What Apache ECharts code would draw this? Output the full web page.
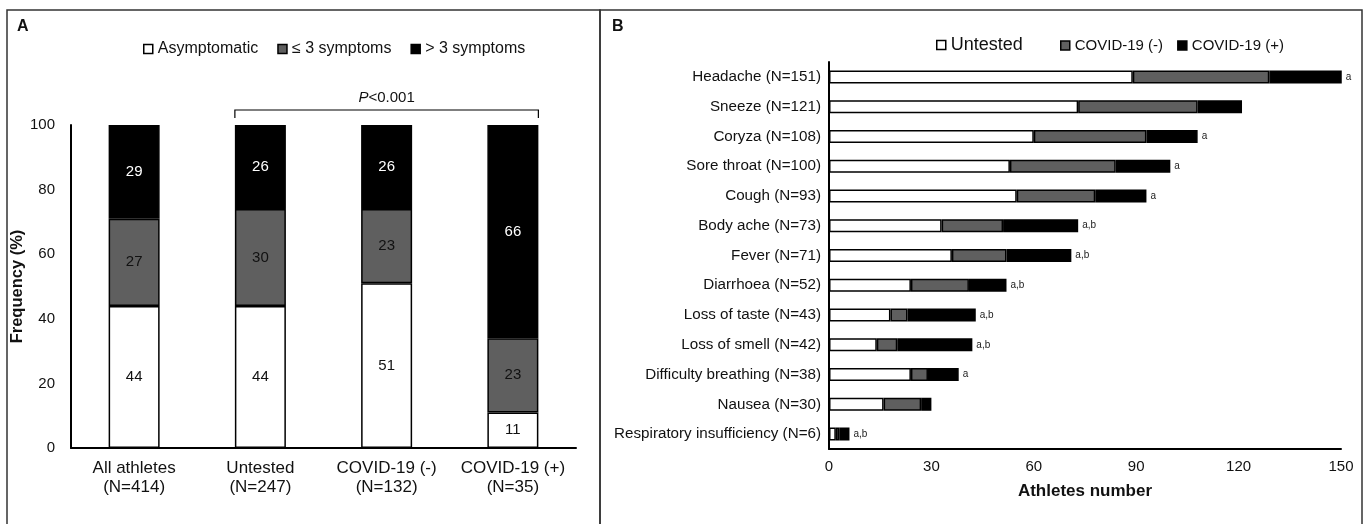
<!DOCTYPE html>
<html>
<head>
<meta charset="utf-8">
<script src="https://cdn.jsdelivr.net/npm/echarts@6/dist/echarts.min.js"></script>
<style>
  html, body { margin: 0; padding: 0; background: #fff; }
  #chart { width: 1367px; height: 524px; }
</style>
</head>
<body>
<div id="chart"></div>
<script>
// Panel A: symptom frequency (%) by group
const groupsA = ["All athletes\n(N=414)", "Untested\n(N=247)", "COVID-19 (-)\n(N=132)", "COVID-19 (+)\n(N=35)"];
const asymptomatic = [44, 44, 51, 11];
const upTo3 = [27, 30, 23, 23];
const over3 = [29, 26, 26, 66];

// Panel B: athletes number per symptom
const symptoms = [
  "Headache (N=151)", "Sneeze (N=121)", "Coryza (N=108)", "Sore throat (N=100)",
  "Cough (N=93)", "Body ache (N=73)", "Fever (N=71)", "Diarrhoea (N=52)",
  "Loss of taste (N=43)", "Loss of smell (N=42)", "Difficulty breathing (N=38)",
  "Nausea (N=30)", "Respiratory insufficiency (N=6)"
];
const untested = [89, 73, 60, 53, 55, 33, 36, 24, 18, 14, 24, 16, 2];
const covidNeg = [40, 35, 33, 31, 23, 18, 16, 17, 5, 6, 5, 11, 1];
const covidPos = [22, 13, 15, 16, 15, 22, 19, 11, 20, 22, 9, 3, 3];
const sigMarks = ["a", "", "a", "a", "a", "a,b", "a,b", "a,b", "a,b", "a,b", "a", "", "a,b"];

const FONT = "Liberation Sans, Arial, sans-serif";
const GRAY = "#5f5f5f";
const edge = { borderColor: "#000", borderWidth: 1.5 };

const chart = echarts.init(document.getElementById("chart"));

const legendBase = {
  itemWidth: 9, itemHeight: 9, itemTextGap: 2, icon: "rect",
  itemStyle: { borderColor: "#000", borderWidth: 1.5 }
};

const option = {
  animation: false,
  textStyle: { fontFamily: FONT, color: "#111" },
  legend: [
    Object.assign({}, legendBase, {
      data: ["Asymptomatic", "≤ 3 symptoms", "> 3 symptoms"],
      left: 138, top: 36, itemGap: 19,
      textStyle: { fontSize: 16, color: "#111", fontFamily: FONT }
    }),
    Object.assign({}, legendBase, {
      data: ["Untested"],
      left: 931, top: 31,
      textStyle: { fontSize: 18, color: "#111", fontFamily: FONT }
    }),
    Object.assign({}, legendBase, {
      data: ["COVID-19 (-)", "COVID-19 (+)"],
      left: 1055, top: 33, itemGap: 14,
      textStyle: { fontSize: 15, color: "#111", fontFamily: FONT }
    })
  ],
  grid: [
    { left: 71, right: 791, top: 125, bottom: 76 },
    { left: 829, right: 26, top: 62, bottom: 75 }
  ],
  xAxis: [
    {
      gridIndex: 0, type: "category", data: groupsA,
      axisLine: { lineStyle: { color: "#000", width: 2 } },
      axisTick: { show: false },
      axisLabel: { interval: 0, fontSize: 17, color: "#111", lineHeight: 19, margin: 11 }
    },
    {
      gridIndex: 1, type: "value", min: 0, max: 150, interval: 30,
      name: "Athletes number", nameLocation: "middle", nameGap: 34,
      nameTextStyle: { fontSize: 17, fontWeight: "bold", color: "#111" },
      axisLine: { show: true, lineStyle: { color: "#000", width: 2 } },
      axisTick: { show: false },
      splitLine: { show: false },
      axisLabel: { fontSize: 15, color: "#111", margin: 10 }
    }
  ],
  yAxis: [
    {
      gridIndex: 0, type: "value", min: 0, max: 100, interval: 20,
      name: "Frequency (%)", nameLocation: "middle", nameGap: 39,
      nameTextStyle: { fontSize: 16.5, fontWeight: "bold", color: "#111" },
      axisLine: { show: true, lineStyle: { color: "#000", width: 2 } },
      axisTick: { show: false },
      splitLine: { show: false },
      axisLabel: { fontSize: 15, color: "#111", margin: 16 }
    },
    {
      gridIndex: 1, type: "category", data: symptoms, inverse: true,
      axisLine: { lineStyle: { color: "#000", width: 2 } },
      axisTick: { show: false },
      axisLabel: { interval: 0, fontSize: 15.2, color: "#111", margin: 8 }
    }
  ],
  series: [
    {
      name: "Asymptomatic", type: "bar", stack: "A", xAxisIndex: 0, yAxisIndex: 0,
      data: asymptomatic, barWidth: 51,
      itemStyle: Object.assign({ color: "#fff" }, edge),
      label: { show: true, position: "inside", fontSize: 15, color: "#111" }
    },
    {
      name: "≤ 3 symptoms", type: "bar", stack: "A", xAxisIndex: 0, yAxisIndex: 0,
      data: upTo3, barWidth: 51,
      itemStyle: Object.assign({ color: GRAY }, edge),
      label: { show: true, position: "inside", fontSize: 15, color: "#111" }
    },
    {
      name: "> 3 symptoms", type: "bar", stack: "A", xAxisIndex: 0, yAxisIndex: 0,
      data: over3, barWidth: 51,
      itemStyle: Object.assign({ color: "#000" }, edge),
      label: { show: true, position: "inside", fontSize: 15, color: "#fff" }
    },
    {
      name: "Untested", type: "bar", stack: "B", xAxisIndex: 1, yAxisIndex: 1,
      data: untested, barWidth: 13,
      itemStyle: Object.assign({ color: "#fff" }, edge)
    },
    {
      name: "COVID-19 (-)", type: "bar", stack: "B", xAxisIndex: 1, yAxisIndex: 1,
      data: covidNeg, barWidth: 13,
      itemStyle: Object.assign({ color: GRAY }, edge)
    },
    {
      name: "COVID-19 (+)", type: "bar", stack: "B", xAxisIndex: 1, yAxisIndex: 1,
      data: covidPos, barWidth: 13,
      itemStyle: Object.assign({ color: "#000" }, edge),
      label: {
        show: true, position: "right", distance: 4, fontSize: 10, color: "#222",
        formatter: p => sigMarks[p.dataIndex]
      }
    }
  ]
};

chart.setOption(option);

// bracket over Untested .. COVID-19 (+) and panel decorations
const half = 51 / 2;
const x1 = chart.convertToPixel({ xAxisIndex: 0 }, groupsA[1]) - half;
const x2 = chart.convertToPixel({ xAxisIndex: 0 }, groupsA[3]) + half;
const yb = 110;

chart.setOption({
  graphic: [
    { type: "rect", shape: { x: 7, y: 10, width: 593, height: 530 }, style: { fill: null, stroke: "#333", lineWidth: 1.5 }, silent: true },
    { type: "rect", shape: { x: 600, y: 10, width: 762, height: 530 }, style: { fill: null, stroke: "#333", lineWidth: 1.5 }, silent: true },
    { type: "text", left: 17, top: 19, style: { text: "A", font: "bold 16px " + FONT, fill: "#111" } },
    { type: "text", left: 612, top: 19, style: { text: "B", font: "bold 16px " + FONT, fill: "#111" } },
    {
      type: "polyline",
      shape: { points: [[x1, yb + 8], [x1, yb], [x2, yb], [x2, yb + 8]] },
      style: { stroke: "#000", lineWidth: 1.2, fill: null }
    },
    {
      type: "text", x: (x1 + x2) / 2, y: yb - 5,
      style: {
        text: "{i|P}<0.001", textAlign: "center", textVerticalAlign: "bottom",
        font: "15px " + FONT, fill: "#111",
        rich: { i: { fontStyle: "italic", fontSize: 15, fontFamily: FONT } }
      }
    }
  ]
});
</script>
</body>
</html>
